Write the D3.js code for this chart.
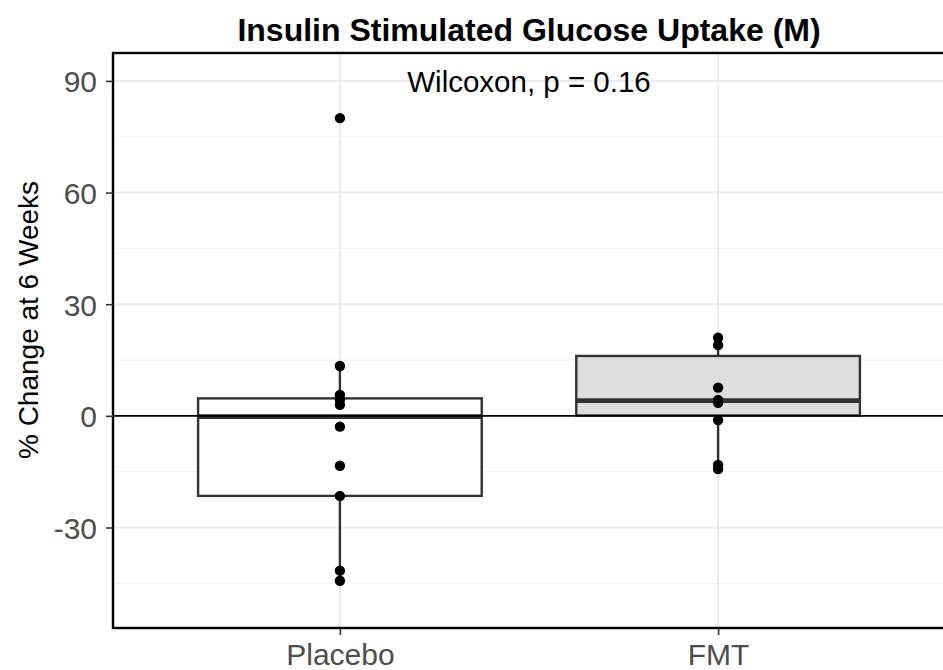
<!DOCTYPE html>
<html><head><meta charset="utf-8">
<script src="https://cdn.jsdelivr.net/npm/d3@7"></script>
<style>body{margin:0;background:#fff}svg{display:block}text{font-family:"Liberation Sans",Arial,sans-serif}</style>
</head><body>
<script>
const categories = ["Placebo", "FMT"];
const placeboValues = [80, 13.4, 5.6, 4.3, 3.0, -2.9, -13.4, -21.5, -41.6, -44.3];
const fmtValues = [21, 19, 7.6, 4.3, 3.5, -1.1, -13.2, -14.3];
// box stats: [lowerWhisker, q1, median, q3, upperWhisker]
const placeboBox = [-44.3, -21.5, -0.2, 4.7, 13.4];
const fmtBox = [-14.3, 0.1, 4.1, 16.1, 21];
const boxFills = ["#ffffff", "#dedede"];
const yMajor = [-30, 0, 30, 60, 90];
const yMinor = [-45, -15, 15, 45, 75];
const titleText = "Insulin Stimulated Glucose Uptake (M)";
const yLabel = "% Change at 6 Weeks";
const annotation = "Wilcoxon, p = 0.16";

const W = 943, H = 670;
const P = {l: 113, r: 945, t: 53, b: 628};
const svg = d3.select("body").append("svg").attr("width", W).attr("height", H);

const unit = (P.r - P.l) / 2.2;
const x = d3.scalePoint().domain(categories).range([P.l + 0.6 * unit, P.r - 0.6 * unit]);
const y = d3.scaleLinear().domain([-57, 97.5]).range([P.b, P.t]);
const boxW = 0.75 * unit;

const g = svg.append("g");
// grid
g.selectAll(".minor").data(yMinor).join("line")
  .attr("x1", P.l).attr("x2", P.r).attr("y1", d => y(d)).attr("y2", d => y(d))
  .attr("stroke", "#f2f2f2").attr("stroke-width", 1.2);
g.selectAll(".major").data(yMajor).join("line")
  .attr("x1", P.l).attr("x2", P.r).attr("y1", d => y(d)).attr("y2", d => y(d))
  .attr("stroke", "#ebebeb").attr("stroke-width", 2);
g.selectAll(".vg").data(categories).join("line")
  .attr("x1", d => x(d)).attr("x2", d => x(d)).attr("y1", P.t).attr("y2", P.b)
  .attr("stroke", "#ebebeb").attr("stroke-width", 2);

const groups = [
  {cat: "Placebo", vals: placeboValues, box: placeboBox, fill: boxFills[0]},
  {cat: "FMT", vals: fmtValues, box: fmtBox, fill: boxFills[1]}
];
const bx = g.selectAll(".box").data(groups).join("g");
bx.append("line").attr("x1", d => x(d.cat)).attr("x2", d => x(d.cat))
  .attr("y1", d => y(d.box[0])).attr("y2", d => y(d.box[1]))
  .attr("stroke", "#333").attr("stroke-width", 2.4);
bx.append("line").attr("x1", d => x(d.cat)).attr("x2", d => x(d.cat))
  .attr("y1", d => y(d.box[3])).attr("y2", d => y(d.box[4]))
  .attr("stroke", "#333").attr("stroke-width", 2.4);
bx.append("rect").attr("x", d => x(d.cat) - boxW / 2).attr("width", boxW)
  .attr("y", d => y(d.box[3])).attr("height", d => y(d.box[1]) - y(d.box[3]))
  .attr("fill", d => d.fill).attr("stroke", "#333").attr("stroke-width", 2.4);
bx.append("line").attr("x1", d => x(d.cat) - boxW / 2).attr("x2", d => x(d.cat) + boxW / 2)
  .attr("y1", d => y(d.box[2])).attr("y2", d => y(d.box[2]))
  .attr("stroke", "#333").attr("stroke-width", 4.6);

// zero line
g.append("line").attr("x1", P.l).attr("x2", P.r).attr("y1", y(0)).attr("y2", y(0))
  .attr("stroke", "#000").attr("stroke-width", 1.8);

// points
groups.forEach(gr => {
  g.selectAll(null).data(gr.vals).join("circle")
    .attr("cx", x(gr.cat)).attr("cy", d => y(d)).attr("r", 5.2).attr("fill", "#000");
});

// panel border
g.append("rect").attr("x", P.l).attr("y", P.t).attr("width", P.r - P.l).attr("height", P.b - P.t)
  .attr("fill", "none").attr("stroke", "#000").attr("stroke-width", 2.4);

// axes
const ya = svg.append("g").attr("transform", `translate(${P.l},0)`)
  .call(d3.axisLeft(y).tickValues(yMajor).tickSize(7).tickPadding(9).tickFormat(d3.format("d")));
ya.select(".domain").remove();
ya.selectAll(".tick line").attr("stroke", "#333").attr("stroke-width", 1.6);
ya.selectAll(".tick text").attr("fill", "#4d4d4d").style("font-size", "30px").attr("dy", "0.36em")
  .text(d => d < 0 ? "-" + Math.abs(d) : d);

const xa = svg.append("g").attr("transform", `translate(0,${P.b})`)
  .call(d3.axisBottom(x).tickSize(7).tickPadding(8));
xa.select(".domain").remove();
xa.selectAll(".tick line").attr("stroke", "#333").attr("stroke-width", 1.6);
xa.selectAll(".tick text").attr("fill", "#4d4d4d").style("font-size", "30px").attr("dy", "0.72em");

// labels
svg.append("text").attr("x", (P.l + P.r) / 2).attr("y", 41).attr("text-anchor", "middle")
  .style("font-size", "32px").style("font-weight", "bold").attr("fill", "#000").text(titleText);
svg.append("text").attr("transform", `translate(38,320) rotate(-90)`)
  .attr("text-anchor", "middle").style("font-size", "28px").attr("fill", "#000").text(yLabel);
svg.append("text").attr("x", (P.l + P.r) / 2).attr("y", 92).attr("text-anchor", "middle")
  .style("font-size", "29.5px").attr("fill", "#000").text(annotation);
</script>
</body></html>
